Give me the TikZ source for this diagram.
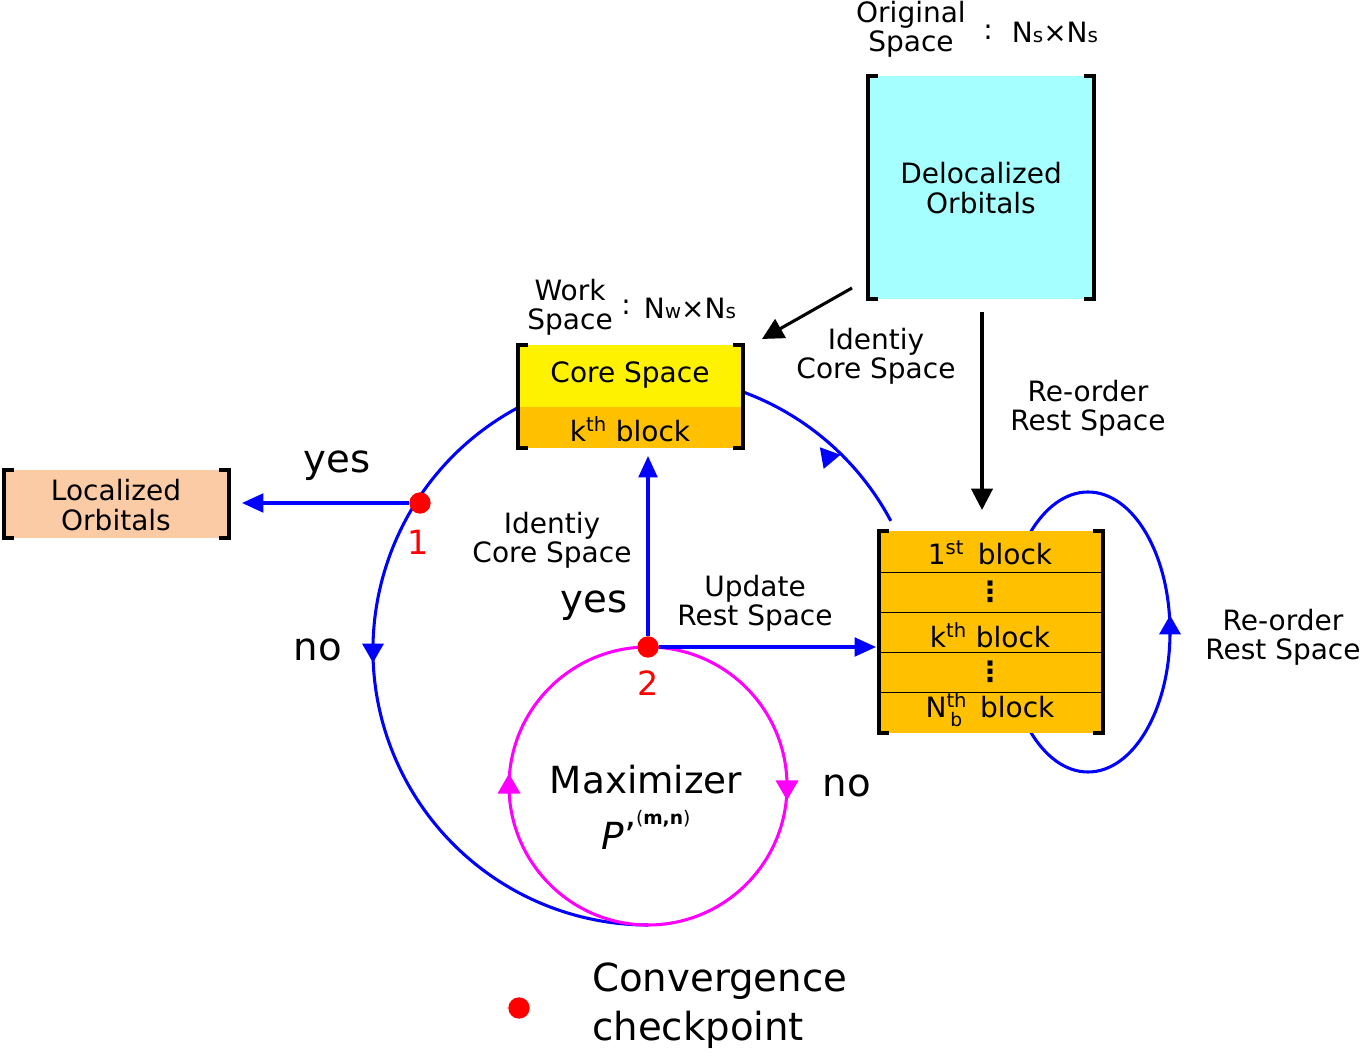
\documentclass[tikz,border=0pt]{standalone}
\usepackage{fontspec}
\setmainfont{DejaVu Sans}
\usetikzlibrary{arrows.meta,calc,shapes.geometric}
\definecolor{cyanbox}{HTML}{A6FFFF}
\definecolor{orng}{HTML}{FFC000}
\definecolor{peach}{HTML}{FBCBA5}
\definecolor{magent}{HTML}{FF00FF}
\tikzset{
  txt/.style={font=\fontsize{21}{22}\selectfont,align=center,inner sep=0pt},
  big/.style={font=\fontsize{29}{32}\selectfont,align=center,inner sep=0pt},
  blu/.style={draw=blue,line width=2.3pt},
  bluarr/.style={blu,-{Triangle[length=16pt,width=14pt]}},
  blkarr/.style={draw=black,line width=2.3pt,-{Triangle[length=16pt,width=16pt]}},
  tri/.style={fill=#1,draw=none,regular polygon,regular polygon sides=3,minimum size=20pt,inner sep=0pt},
  brk/.style={line width=3pt},
  dot/.style={circle,fill=red,minimum size=16pt,inner sep=0pt}
}
\newcommand{\brackets}[4]{%
  \draw[brk] (#1+10,#4) -- (#1,#4) -- (#1,#2) -- (#1+10,#2);
  \draw[brk] (#3-10,#4) -- (#3,#4) -- (#3,#2) -- (#3-10,#2);}
\begin{document}
\begin{tikzpicture}[x=0.75pt,y=0.75pt]
\useasboundingbox (0,0) rectangle (1370,1053);
\coordinate (bc) at (648,403);
\draw[blu] ($(bc)+(28:275)$) arc (28:72:275);
\draw[blu] ($(bc)+(116:275)$) arc (116:270:275);
\draw[blu] (1088,421) ellipse (82 and 140);
\draw[draw=magent,line width=2.3pt] (648,267) circle (139);
\node[tri=blue,shape border rotate=180,minimum size=19pt] at (373,403) {};
\node[tri=blue,shape border rotate=40,minimum size=19pt] at (828,596) {};
\node[tri=blue,minimum size=19pt] at (1170,425) {};
\node[tri=magent,shape border rotate=180] at (787,266) {};
\node[tri=magent] at (509,266) {};
% original
\fill[cyanbox] (868,754) rectangle (1094,977);
\brackets{868}{754}{1094}{977}
\node[txt] (deloc) at (981,865) {Delocalized\\Orbitals};
\node[txt,anchor=east] (orig) at (966,1024) {Original\\Space};
\node[txt] at (988,1021) {:};
\node[txt] (ns) at (1055,1021) {N{\fontsize{15}{15}\selectfont s}×N{\fontsize{15}{15}\selectfont s}};
% work
\fill[yellow] (518,646) rectangle (743,708);
\fill[orng] (518,605) rectangle (743,646);
\brackets{518}{605}{743}{708}
\node[txt] (core) at (630,678) {Core Space};
\node[txt] (kb) at (630,624) {k\textsuperscript{th} block};
\node[txt,anchor=east] (work) at (613,746) {Work\\Space};
\node[txt] at (626,746) {:};
\node[txt] (nw) at (690,745) {N{\fontsize{15}{15}\selectfont w}×N{\fontsize{15}{15}\selectfont s}};
% localized
\fill[peach] (4,515) rectangle (229,583);
\brackets{4}{515}{229}{583}
\node[txt] (loc) at (116,548) {Localized\\Orbitals};
% rest
\fill[orng] (879,320) rectangle (1103,522);
\foreach \y in {481,441,401,361} \draw[line width=0.6pt] (879,\y) -- (1103,\y);
\brackets{879}{320}{1103}{522}
\node[txt] at (990,500) {1\textsuperscript{st}\, block};
\node[txt] at (990,461) {\textbf{⋮}};
\node[txt] at (990,418) {k\textsuperscript{th} block};
\node[txt] at (990,381) {\textbf{⋮}};
\node[txt] at (990,343) {N\textsuperscript{th}\kern-1.1ex\raisebox{-0.6ex}{\fontsize{14}{14}\selectfont b}\ \ block};
% black arrows
\coordinate (a1) at (852,765); \coordinate (a2) at (762,714);
\draw[blkarr] (a1) -- (a2);
\coordinate (b1) at (982,741); \coordinate (b2) at (982,543);
\draw[blkarr] (b1) -- (b2);
\node[txt] at (876,697) {Identiy\\Core Space};
\node[txt] at (1088,645) {Re-order\\Rest Space};
% checkpoints
\node[dot] (c1) at (420,550) {};
\node[dot] (c2) at (648,406) {};
\coordinate (l1) at (242,550);
\draw[bluarr] (c1) -- (l1);
\coordinate (u2) at (648,597);
\draw[bluarr] (c2) -- (u2);
\coordinate (r2) at (876,406);
\draw[bluarr] (c2) -- (r2);
\node[font=\fontsize{25}{25}\selectfont,text=red] at (418,511) {1};
\node[font=\fontsize{25}{25}\selectfont,text=red] at (648,370) {2};
\node[big] at (337,587) {yes};
\node[big] at (318,403) {no};
\node[txt] at (552,513) {Identiy\\Core Space};
\node[big] at (594,447) {yes};
\node[txt] at (755,450) {Update\\Rest Space};
\node[big] at (847,267) {no};
\node[txt] at (1283,416) {Re-order\\Rest Space};
\node[font=\fontsize{28}{30}\selectfont] at (646,273) {Maximizer};
\node[font=\fontsize{28}{30}\selectfont] at (646,223) {\itshape P\upshape'\raisebox{1.2ex}{\fontsize{14}{14}\selectfont(\textbf{m,n})}};
\node[dot] (leg) at (519,45) {};
\node[big,align=left,anchor=west,font=\fontsize{29}{37}\selectfont] at (592,47) {Convergence\\checkpoint};
\end{tikzpicture}
\end{document}
